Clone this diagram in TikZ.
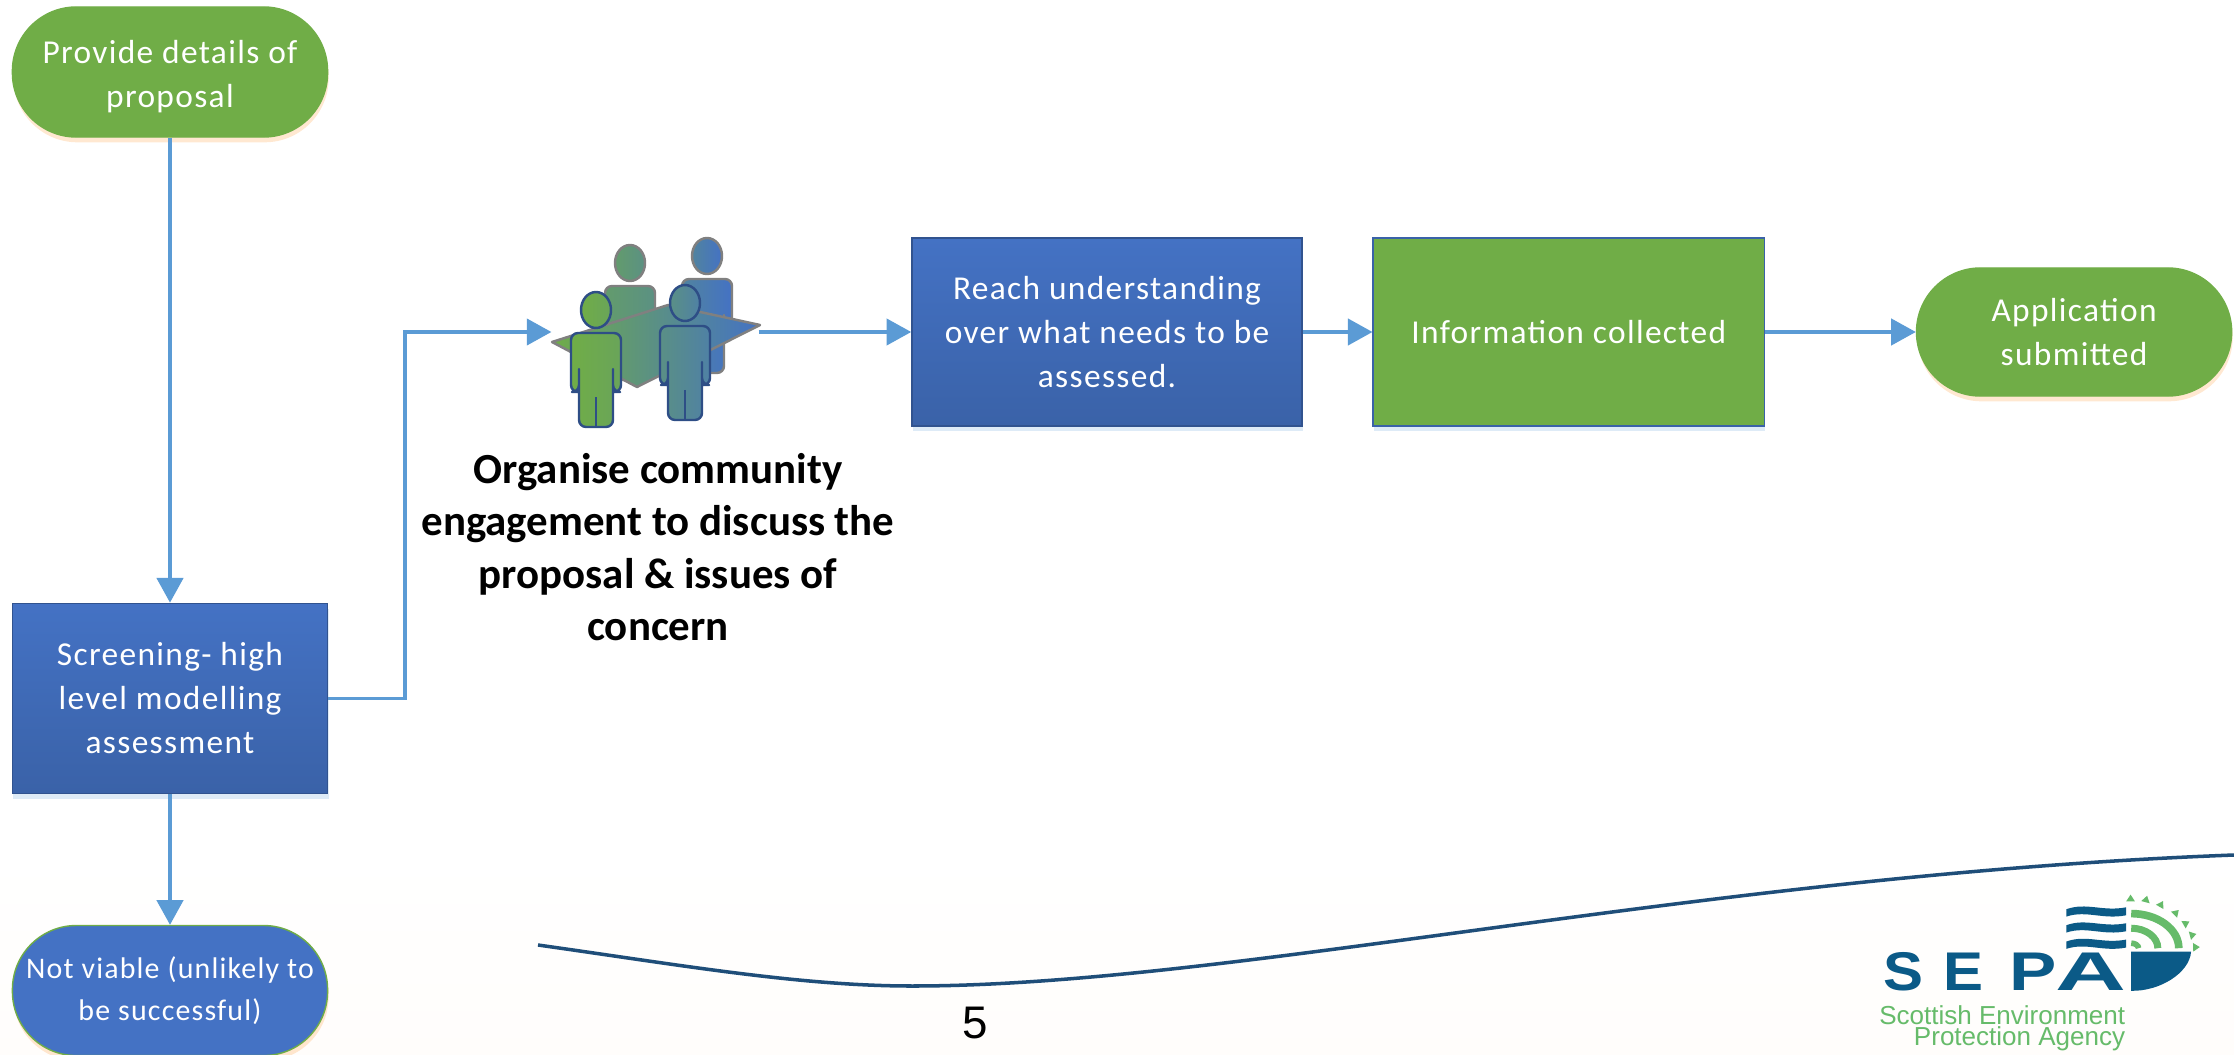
\documentclass[tikz,border=0pt]{standalone}
\usepackage{fontspec}
\usepackage{xcolor}
\usepackage{tikz}
\usetikzlibrary{arrows.meta}
\usetikzlibrary{calc}
\usetikzlibrary{positioning}
\usetikzlibrary{shadows}
\setmainfont{Carlito}
\newfontfamily\boxfont[LetterSpace=4]{Carlito}
\newfontfamily\pagefont{Liberation Sans}
\definecolor{sepablue}{HTML}{4472C4}
\definecolor{sepadark}{HTML}{3A62A8}
\definecolor{sepagreen}{HTML}{70AD47}
\definecolor{flowblue}{HTML}{5B9BD5}
\definecolor{logoblue}{HTML}{0B5A87}
\definecolor{logogreen}{HTML}{66BB6A}
\definecolor{curveblue}{HTML}{1F4E79}

\begin{document}
\begin{tikzpicture}[x=0.01cm,y=-0.01cm,node distance=2cm,semithick]
	\tikzstyle{flow}=[draw=flowblue, line width=0.9pt, -{Triangle[length=7pt,width=7.5pt]}]
	\tikzstyle{boxtext}=[text=white, align=center, font=\boxfont\fontsize{9.5}{12.5}\selectfont, inner sep=0pt]
	\tikzstyle{bluebox}=[boxtext, top color=sepablue, bottom color=sepadark, draw=sepadark!85!black, thin,
		minimum width=3.15cm, minimum height=1.9cm, drop shadow={shadow xshift=0.3pt,shadow yshift=-1.5pt,fill=flowblue,opacity=.2}]
	\tikzstyle{greenbox}=[boxtext, fill=sepagreen, draw=sepadark, thin,
		minimum width=3.91cm, minimum height=1.88cm, drop shadow={shadow xshift=0.3pt,shadow yshift=-1.5pt,fill=flowblue,opacity=.2}]
	\tikzstyle{terminal}=[boxtext, draw=sepagreen, thin, rounded corners=0.64cm,
		minimum width=3.15cm, minimum height=1.3cm, drop shadow={shadow xshift=0.3pt,shadow yshift=-1.5pt,fill=orange,opacity=.18}]
	\tikzstyle{crowdback}=[draw=gray, line width=0.7pt, line join=round]
	\tikzstyle{crowdfront}=[draw=sepadark!80!black, line width=0.7pt, line join=round]
	\tikzstyle{logoletter}=[font=\pagefont\bfseries\fontsize{15.5}{16}\selectfont, text=logoblue, inner sep=0pt, anchor=base]
	\tikzset{
		person/.pic={
			\path[pic actions] (0,0) ellipse [x radius=15, y radius=18];
			\path[pic actions, rounded corners=2pt] (-25,82) -- (-25,23) -- (25,23) -- (25,82) -- (17,82) -- (17,55)
				-- (17,117) -- (-17,117) -- (-17,55) -- (-17,82) -- cycle;
			\draw[sepadark!80!black, line width=0.7pt] (0,87) -- (0,117);
		}
	}

	\useasboundingbox (0,0) rectangle (2234,1055);
	\fill[top color=white, bottom color=orange!1.5] (0,850) rectangle (2234,1055);

	\node[terminal, fill=sepagreen] (start) at (170,72) {\rule{0pt}{9pt}Provide details of\\proposal};
	\node[bluebox] (screen) [below of=start, node distance=6.26cm] {Screening- high\\level modelling\\assessment};
	\node[terminal, fill=sepablue, font=\boxfont\fontsize{8.5}{11.8}\selectfont] (drop) [below of=screen, node distance=2.92cm] {Not viable (unlikely to\\be successful)};

	\node[inner sep=0pt, minimum width=2.05cm, minimum height=1.9cm] (people) at (655,332) {};
	\node[font=\bfseries\fontsize{12.2}{14.8}\selectfont, align=center, inner sep=0pt, xshift=0.03cm] (engage) [below of=people, node distance=2.15cm]
		{Organise community\\engagement to discuss the\\proposal \& issues of\\concern};
	\node[bluebox, minimum width=3.9cm, minimum height=1.88cm] (reach) at (1107,332) {Reach understanding\\over what needs to be\\assessed.};
	\node[greenbox] (info) [right of=reach, node distance=4.615cm] {Information collected};
	\node[terminal, fill=sepagreen, minimum height=1.28cm] (apply) [right of=info, node distance=5.05cm] {Application\\submitted};
	\coordinate (bend) at (405,332);

	% people round the table
	\pic[crowdback, left color=sepagreen!70!sepablue, right color=sepagreen!52!sepablue] at (630,263) {person};
	\pic[crowdback, left color=sepagreen!30!sepablue, right color=sepablue] at (707,256) {person};
	\draw[crowdback, left color=sepagreen, right color=sepablue] (552,342) -- (668,305) -- (760,325) -- (637,387) -- cycle;
	\pic[crowdfront, left color=sepagreen, right color=sepagreen!85!sepablue] at (596,310) {person};
	\pic[crowdfront, left color=sepagreen!50!sepablue, right color=sepagreen!25!sepablue] at (685,303) {person};

	\draw[flow] (start) -- (screen);
	\draw[flow] (screen) -- (drop);
	\draw[flow] (screen.east) -| (bend) -- (people.west);
	\draw[flow] (people.east) -- (reach);
	\draw[flow] (reach) -- (info);
	\draw[flow] (info) -- (apply);

	% footer
	\draw[draw=curveblue, line width=1pt] (538,945) .. controls (680,965) and (800,986) .. (912,986)
		.. controls (1230,986) and (1700,875) .. (2234,855);
	\node[font=\pagefont\fontsize{13}{15}\selectfont, inner sep=0pt] (pagenum) at (975,1023) {5};

	% logo
	\begin{scope}[shift={(1840,860)},x=0.003333cm,y=-0.003333cm]
		\foreach \y in {148,196,245}{
			\fill[logoblue] (680,\y) .. controls (740,\y-22) and (790,\y+8) .. (860,\y-6) -- (860,\y+18)
				.. controls (790,\y+32) and (740,\y+2) .. (680,\y+22) -- cycle;
		}
		\foreach \rx/\ry/\w in {143/104/23,80/60/21,22/15/17}{
			\draw[logogreen, line width=\w*0.0333mm] (875,265-\ry) arc [start angle=-90, end angle=0, x radius=\rx, y radius=\ry];
		}
		\foreach \x/\y/\a in {873/115/0,920/118/-15,965/133/-30,1010/158/-45,1040/190/-60,1060/225/-75,1070/262/-88}{
			\fill[logogreen, shift={(\x,\y)}, rotate=\a] (-13,9) -- (13,9) -- (0,-11) -- cycle;
		}
		\fill[logoblue] (875,275) -- (1055,275) .. controls (1050,340) and (960,395) .. (875,393) -- cycle;
		\node[logoletter, xscale=1.1] (logos) at (190,393) {S};
		\node[logoletter, xscale=1.1] (logoe) at (370,393) {E};
		\node[logoletter, xscale=1.3] (logop) at (580,393) {P};
		\node[logoletter, xscale=1.8] (logoa) at (755,393) {A};
		\node[font=\pagefont\fontsize{7.4}{5.9}\selectfont, text=logogreen, align=right, inner sep=0pt, anchor=north east] (logotext) at (860,435)
			{Scottish Environment\\Protection Agency};
	\end{scope}
\end{tikzpicture}
\end{document}
